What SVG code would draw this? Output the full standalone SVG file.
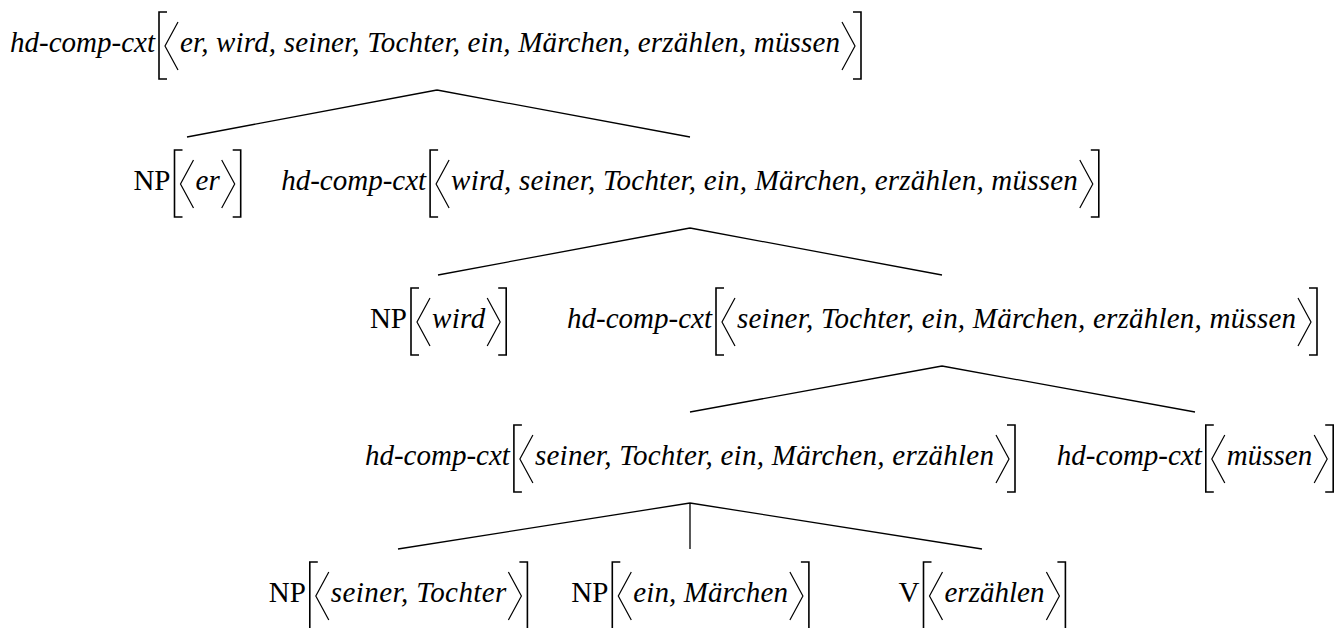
<svg xmlns="http://www.w3.org/2000/svg" xmlns:xlink="http://www.w3.org/1999/xlink" width="1337" height="628" viewBox="0 0 1337 628">
<style>
text{font-family:"Liberation Serif","Times New Roman",serif;font-size:29px;fill:#000}
.it{font-style:italic}
.lab{text-anchor:end}
.br{fill:none;stroke:#000;stroke-width:1.6}
.ang{fill:none;stroke:#000;stroke-width:1.2}
.edge{fill:none;stroke:#000;stroke-width:1.3}
</style>
<defs>
<g id="open"><path class="br" d="M8,0 H0 V67 H8"/><path class="ang" d="M19,10 L6,34 L19,58"/></g>
<g id="close"><path class="ang" d="M2,10 L15,34 L2,58"/><path class="br" d="M13,0 H21 V67 H13"/></g>
</defs>
<rect width="1337" height="628" fill="#fff"/>
<g id="connectors">
<path class="edge" d="M437,90 L187,137 M437,90 L690,137"/>
<path class="edge" d="M690,228 L438,275 M690,228 L942,275"/>
<path class="edge" d="M942,366 L690,412 M942,366 L1195,412"/>
<path class="edge" d="M690,503 L398,549 M690,503 L690,549 M690,503 L982,549"/>
</g>
<g id="n1">
<text class="it lab" x="155" y="52">hd-comp-cxt</text>
<use href="#open" x="159" y="12"/>
<text class="it" x="180" y="52" textLength="660">er, wird, seiner, Tochter, ein, Märchen, erzählen, müssen</text>
<use href="#close" x="840" y="12"/>
</g>
<g id="n2">
<text class="lab" x="170.5" y="190">NP</text>
<use href="#open" x="174.5" y="150"/>
<text class="it" x="195.5" y="190" textLength="24.2">er</text>
<use href="#close" x="219.7" y="150"/>
</g>
<g id="n3">
<text class="it lab" x="426.1" y="190">hd-comp-cxt</text>
<use href="#open" x="430.1" y="150"/>
<text class="it" x="451.1" y="190" textLength="626.7">wird, seiner, Tochter, ein, Märchen, erzählen, müssen</text>
<use href="#close" x="1077.8" y="150"/>
</g>
<g id="n4">
<text class="lab" x="407" y="328">NP</text>
<use href="#open" x="411" y="288"/>
<text class="it" x="432" y="328" textLength="53.2">wird</text>
<use href="#close" x="485.2" y="288"/>
</g>
<g id="n5">
<text class="it lab" x="712" y="328">hd-comp-cxt</text>
<use href="#open" x="716" y="288"/>
<text class="it" x="737" y="328" textLength="559">seiner, Tochter, ein, Märchen, erzählen, müssen</text>
<use href="#close" x="1296" y="288"/>
</g>
<g id="n6">
<text class="it lab" x="509.9" y="465">hd-comp-cxt</text>
<use href="#open" x="513.9" y="425"/>
<text class="it" x="534.9" y="465" textLength="459.1">seiner, Tochter, ein, Märchen, erzählen</text>
<use href="#close" x="994" y="425"/>
</g>
<g id="n7">
<text class="it lab" x="1201.8" y="465">hd-comp-cxt</text>
<use href="#open" x="1205.8" y="425"/>
<text class="it" x="1226.8" y="465" textLength="85.4">müssen</text>
<use href="#close" x="1312.2" y="425"/>
</g>
<g id="n8">
<text class="lab" x="305.8" y="602">NP</text>
<use href="#open" x="309.8" y="562"/>
<text class="it" x="330.8" y="602" textLength="175.6">seiner, Tochter</text>
<use href="#close" x="506.4" y="562"/>
</g>
<g id="n9">
<text class="lab" x="608.3" y="602">NP</text>
<use href="#open" x="612.3" y="562"/>
<text class="it" x="633.3" y="602" textLength="154.6">ein, Märchen</text>
<use href="#close" x="787.9" y="562"/>
</g>
<g id="n10">
<text class="lab" x="919.5" y="602">V</text>
<use href="#open" x="923.5" y="562"/>
<text class="it" x="944.5" y="602" textLength="99.9">erzählen</text>
<use href="#close" x="1044.4" y="562"/>
</g>
</svg>
